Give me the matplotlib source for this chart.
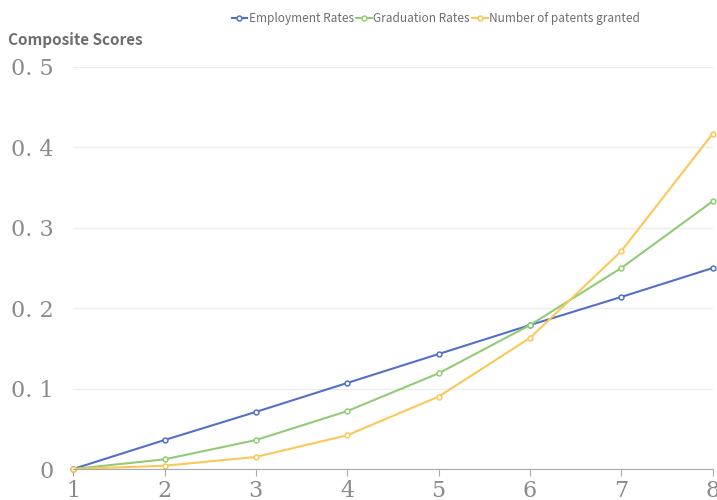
import matplotlib
matplotlib.use("Agg")
import matplotlib.pyplot as plt

# data
years = [1, 2, 3, 4, 5, 6, 7, 8]
employment = [0, 0.036, 0.071, 0.107, 0.143, 0.179, 0.214, 0.250]
graduation = [0, 0.012, 0.036, 0.072, 0.119, 0.179, 0.250, 0.333]
patents = [0, 0.004, 0.015, 0.042, 0.090, 0.163, 0.271, 0.417]
series_names = ["Employment Rates", "Graduation Rates", "Number of patents granted"]
y_ticks = [0, 0.1, 0.2, 0.3, 0.4, 0.5]
y_tick_labels = ["0", "0. 1", "0. 2", "0. 3", "0. 4", "0. 5"]

colors = ["#5470c6", "#91cc75", "#fac858"]
grey = "#8a8a8a"

fig = plt.figure(figsize=(7.17, 5), dpi=100)
ax = fig.add_axes([0.102, 0.062, 0.892, 0.804])

for vals, name, c in zip([employment, graduation, patents], series_names, colors):
    ax.plot(years, vals, color=c, linewidth=1.5, marker="o", markersize=3.5,
            markerfacecolor="white", markeredgewidth=1.1, label=name, clip_on=False)

ax.set_xlim(1, 8)
ax.set_ylim(0, 0.5)
ax.set_xticks(years)
ax.set_xticklabels([str(y) for y in years], fontfamily="DejaVu Serif", fontsize=16, color=grey)
ax.set_yticks(y_ticks)
ax.set_yticklabels(y_tick_labels, fontfamily="DejaVu Serif", fontsize=16, color=grey)
ax.tick_params(axis="y", length=0, pad=14)
ax.tick_params(axis="x", length=5, color="#aaaaaa", pad=3)
ax.grid(axis="y", color="#ececec", linewidth=1)
ax.set_axisbelow(True)
for side in ["top", "right", "left"]:
    ax.spines[side].set_visible(False)
ax.spines["bottom"].set_color("#aaaaaa")

fig.text(0.011, 0.92, "Composite Scores", fontsize=11, fontweight="bold", color="#6e6e6e",
         fontfamily="Noto Sans CJK SC", va="center")

fig.legend(loc="center", bbox_to_anchor=(0.608, 0.963), ncol=3, frameon=False,
           handlelength=1.3, handletextpad=0.15, columnspacing=0.2,
           labelcolor="#6e6e6e", prop={"family": "Noto Sans CJK SC", "size": 8.5})

fig.savefig("out.png", dpi=100)
